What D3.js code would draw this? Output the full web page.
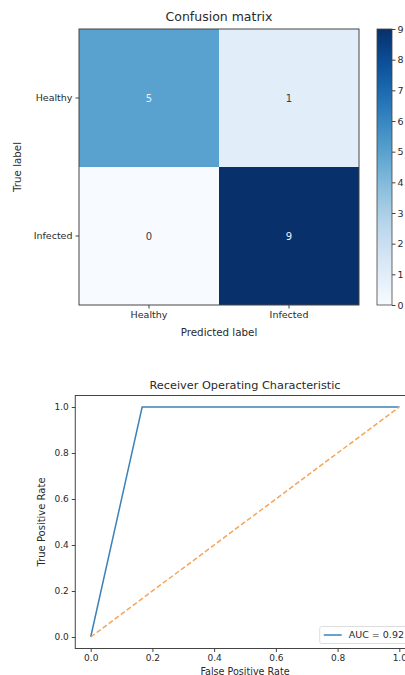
<!DOCTYPE html>
<html><head><meta charset="utf-8">
<script src="https://cdn.jsdelivr.net/npm/d3@7"></script>
<style>body{margin:0;background:#fff}svg{display:block;font-family:"DejaVu Sans",sans-serif}</style>
</head><body>
<svg id="c" width="405" height="675"></svg>
<script>
const classes = ["Healthy", "Infected"];
const matrix = [[5, 1], [0, 9]];
const cbTicks = [0,1,2,3,4,5,6,7,8,9];
const fpr = [0, 0.1667, 1];
const tpr = [0, 1, 1];
const chance = [0, 1];
const rocTicks = [0, 0.2, 0.4, 0.6, 0.8, 1.0];
const aucLabel = "AUC = 0.92";

const svg = d3.select("#c");
const ink = "#2a2a2a";

// ---------- Confusion matrix ----------
const cm = {l:79, r:359, t:29, b:305};
const xb = d3.scaleBand().domain(classes).range([cm.l, cm.r]);
const yb = d3.scaleBand().domain(classes).range([cm.t, cm.b]);
const color = d3.scaleSequential(d3.interpolateBlues).domain([0, 9]);

const g1 = svg.append("g");
const cells = [];
matrix.forEach((row, i) => row.forEach((v, j) => cells.push({r: classes[i], c: classes[j], v})));
g1.selectAll("rect.cell").data(cells).join("rect")
  .attr("x", d => xb(d.c)).attr("y", d => yb(d.r))
  .attr("width", xb.bandwidth()).attr("height", yb.bandwidth())
  .attr("fill", d => color(d.v));
g1.selectAll("text.val").data(cells).join("text")
  .attr("x", d => xb(d.c) + xb.bandwidth()/2).attr("y", d => yb(d.r) + yb.bandwidth()/2)
  .attr("dy", "0.35em").attr("text-anchor", "middle").attr("font-size", 10)
  .attr("fill", d => d.v > 4.5 ? "#e8f0fa" : "#3a3a3a").text(d => d.v);
g1.append("rect").attr("x", cm.l).attr("y", cm.t).attr("width", cm.r-cm.l).attr("height", cm.b-cm.t)
  .attr("fill", "none").attr("stroke", "#444").attr("stroke-width", 1);

const ax1 = g1.append("g").attr("transform", `translate(0,${cm.b})`)
  .call(d3.axisBottom(xb).tickSizeOuter(0).tickSize(3.5).tickPadding(3));
const ay1 = g1.append("g").attr("transform", `translate(${cm.l},0)`)
  .call(d3.axisLeft(yb).tickSizeOuter(0).tickSize(3.5).tickPadding(3));
[ax1, ay1].forEach(a => {
  a.select(".domain").remove();
  a.selectAll("text").attr("font-size", 9.5).attr("fill", ink).attr("font-family", "DejaVu Sans");
  a.selectAll("line").attr("stroke", "#444");
});
g1.append("text").attr("x", (cm.l+cm.r)/2).attr("y", 21).attr("text-anchor", "middle")
  .attr("font-size", 12.5).attr("fill", ink).text("Confusion matrix");
g1.append("text").attr("x", (cm.l+cm.r)/2).attr("y", 336).attr("text-anchor", "middle")
  .attr("font-size", 10.3).attr("fill", ink).text("Predicted label");
g1.append("text").attr("transform", `translate(21,${(cm.t+cm.b)/2}) rotate(-90)`).attr("text-anchor", "middle")
  .attr("font-size", 10.3).attr("fill", ink).text("True label");

// colorbar
const cb = {l:377, r:392, t:29, b:305};
const defs = svg.append("defs");
const grad = defs.append("linearGradient").attr("id", "cbg").attr("x1", 0).attr("x2", 0).attr("y1", 1).attr("y2", 0);
d3.range(0, 1.0001, 0.05).forEach(t => grad.append("stop").attr("offset", t).attr("stop-color", d3.interpolateBlues(t)));
svg.append("rect").attr("x", cb.l).attr("y", cb.t).attr("width", cb.r-cb.l).attr("height", cb.b-cb.t)
  .attr("fill", "url(#cbg)").attr("stroke", "#444").attr("stroke-width", 0.8);
const cbs = d3.scaleLinear().domain([0, 9]).range([cb.b, cb.t]);
const acb = svg.append("g").attr("transform", `translate(${cb.r},0)`)
  .call(d3.axisRight(cbs).tickValues(cbTicks).tickSize(3.5).tickPadding(2).tickFormat(d3.format("d")));
acb.select(".domain").remove();
acb.selectAll("text").attr("font-size", 9.5).attr("fill", ink).attr("font-family", "DejaVu Sans");
acb.selectAll("line").attr("stroke", "#444");

// ---------- ROC ----------
const x = d3.scaleLinear().domain([0, 1]).range([90.7, 399.3]);
const y = d3.scaleLinear().domain([0, 1]).range([637, 407]);
const fr = {l: x(-0.05), r: x(1.05), t: y(1.05), b: y(-0.05)};
const g2 = svg.append("g");
g2.append("rect").attr("x", fr.l).attr("y", fr.t).attr("width", fr.r-fr.l).attr("height", fr.b-fr.t)
  .attr("fill", "none").attr("stroke", "#444").attr("stroke-width", 1);
const ax2 = g2.append("g").attr("transform", `translate(0,${fr.b})`)
  .call(d3.axisBottom(x).tickValues(rocTicks).tickSize(3.5).tickPadding(3).tickFormat(d3.format(".1f")));
const ay2 = g2.append("g").attr("transform", `translate(${fr.l},0)`)
  .call(d3.axisLeft(y).tickValues(rocTicks).tickSize(3.5).tickPadding(3).tickFormat(d3.format(".1f")));
[ax2, ay2].forEach(a => {
  a.select(".domain").remove();
  a.selectAll("text").attr("font-size", 9).attr("fill", ink).attr("font-family", "DejaVu Sans");
  a.selectAll("line").attr("stroke", "#444");
});
const line = d3.line().x(d => x(d[0])).y(d => y(d[1]));
g2.append("path").datum(d3.zip(fpr, tpr)).attr("d", line)
  .attr("fill", "none").attr("stroke", "#3b82b8").attr("stroke-width", 1.5);
g2.append("path").datum(d3.zip(chance, chance)).attr("d", line)
  .attr("fill", "none").attr("stroke", "#f4a55a").attr("stroke-width", 1.5).attr("stroke-dasharray", "5,2.5");
g2.append("text").attr("x", (fr.l+fr.r)/2).attr("y", 389).attr("text-anchor", "middle")
  .attr("font-size", 11.3).attr("fill", ink).text("Receiver Operating Characteristic");
g2.append("text").attr("x", (fr.l+fr.r)/2).attr("y", 675).attr("text-anchor", "middle")
  .attr("font-size", 9.6).attr("fill", ink).text("False Positive Rate");
g2.append("text").attr("transform", `translate(45,${(fr.t+fr.b)/2}) rotate(-90)`).attr("text-anchor", "middle")
  .attr("font-size", 10).attr("fill", ink).text("True Positive Rate");
// legend
const lg = g2.append("g").attr("transform", `translate(${fr.r - 95},${fr.b - 22})`);
lg.append("rect").attr("x", 0).attr("y", 0).attr("width", 90).attr("height", 17).attr("rx", 2)
  .attr("fill", "#fff").attr("stroke", "#ddd");
lg.append("line").attr("x1", 4).attr("x2", 22).attr("y1", 8.5).attr("y2", 8.5)
  .attr("stroke", "#3b82b8").attr("stroke-width", 1.5);
lg.append("text").attr("x", 29).attr("y", 8.5).attr("dy", "0.35em").attr("font-size", 9.5).attr("fill", ink).text(aucLabel);
</script>
</body></html>
